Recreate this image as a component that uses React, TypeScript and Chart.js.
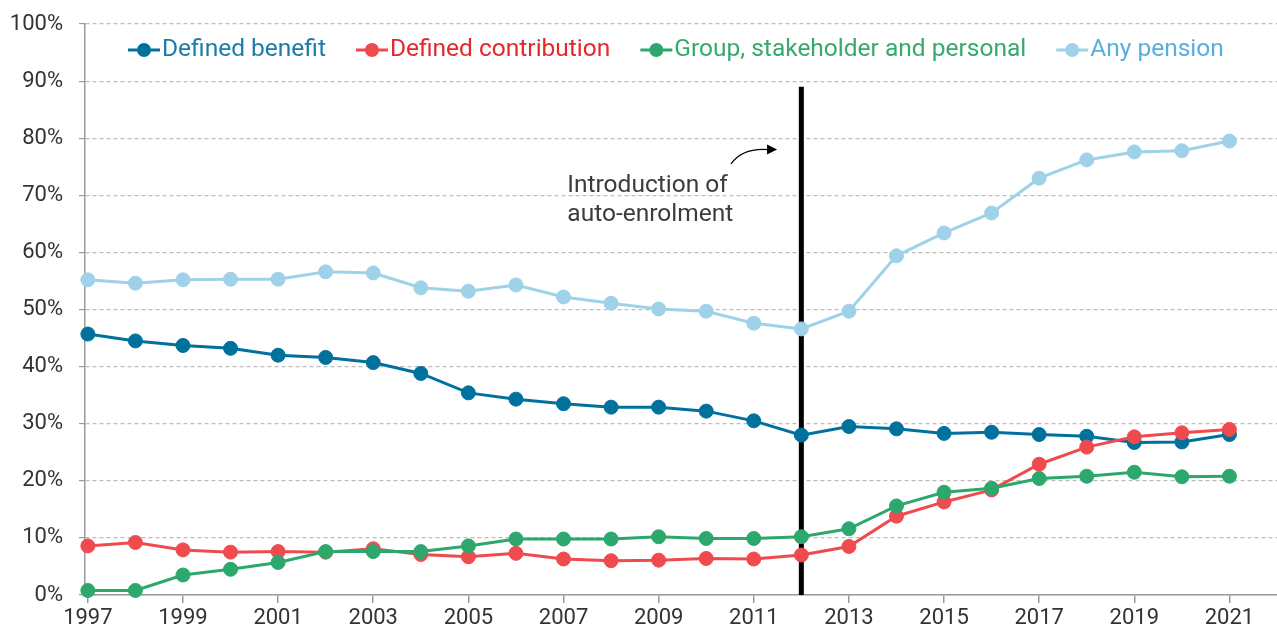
import React, { useEffect, useRef } from "react";
import { Chart, registerables } from "chart.js";

Chart.register(...registerables);

const years = [1997, 1998, 1999, 2000, 2001, 2002, 2003, 2004, 2005, 2006, 2007, 2008, 2009, 2010, 2011, 2012, 2013, 2014, 2015, 2016, 2017, 2018, 2019, 2020, 2021];
const definedBenefit = [45.7, 44.5, 43.7, 43.2, 42.0, 41.6, 40.7, 38.8, 35.4, 34.3, 33.5, 32.9, 32.9, 32.2, 30.5, 28.0, 29.5, 29.1, 28.3, 28.5, 28.1, 27.8, 26.7, 26.8, 28.1];
const definedContribution = [8.6, 9.2, 7.9, 7.5, 7.6, 7.5, 8.1, 7.1, 6.7, 7.3, 6.3, 6.0, 6.1, 6.4, 6.3, 7.0, 8.5, 13.8, 16.3, 18.4, 22.9, 25.9, 27.7, 28.4, 29.0];
const groupStakeholderPersonal = [0.8, 0.8, 3.5, 4.5, 5.7, 7.6, 7.6, 7.6, 8.6, 9.8, 9.8, 9.8, 10.2, 9.9, 9.9, 10.2, 11.6, 15.6, 18.0, 18.7, 20.4, 20.8, 21.5, 20.7, 20.8];
const anyPension = [55.2, 54.6, 55.2, 55.3, 55.3, 56.6, 56.4, 53.8, 53.2, 54.3, 52.2, 51.1, 50.1, 49.7, 47.6, 46.6, 49.7, 59.4, 63.4, 66.9, 73.0, 76.2, 77.6, 77.8, 79.5];
const xTickYears = [1997, 1999, 2001, 2003, 2005, 2007, 2009, 2011, 2013, 2015, 2017, 2019, 2021];

const autoEnrolmentYear = 2012;
const annotationLines = ["Introduction of", "auto-enrolment"];

const FONT = "Roboto, 'Liberation Sans', sans-serif";
const WIDTH = 1277;
const HEIGHT = 635;

const seriesStyle = [
  { label: "Defined benefit", color: "#00719D", text: "#1A7CA8", data: definedBenefit, order: 4 },
  { label: "Defined contribution", color: "#EF4B4F", text: "#E5272C", data: definedContribution, order: 3 },
  { label: "Group, stakeholder and personal", color: "#2DA86C", text: "#36A96E", data: groupStakeholderPersonal, order: 2 },
  { label: "Any pension", color: "#9FD2E9", text: "#58AEDF", data: anyPension, order: 1 },
];

// Legend drawn inside the plot area: line + dot marker followed by coloured text
const insideLegend = {
  id: "insideLegend",
  afterDraw(chart: any) {
    const ctx = chart.ctx;
    ctx.save();
    ctx.font = `24.5px ${FONT}`;
    ctx.textBaseline = "middle";
    ctx.textAlign = "left";
    let x = 128;
    const y = 50;
    for (const s of seriesStyle) {
      ctx.strokeStyle = s.color;
      ctx.lineWidth = 3;
      ctx.beginPath();
      ctx.moveTo(x, y);
      ctx.lineTo(x + 32, y);
      ctx.stroke();
      ctx.fillStyle = s.color;
      ctx.beginPath();
      ctx.arc(x + 16, y, 7, 0, Math.PI * 2);
      ctx.fill();
      ctx.fillStyle = s.text;
      ctx.fillText(s.label, x + 34, y);
      x += 34 + ctx.measureText(s.label).width + 30;
    }
    ctx.restore();
  },
};

// Vertical marker for auto-enrolment with its label and curved arrow
const autoEnrolmentMarker = {
  id: "autoEnrolmentMarker",
  beforeDatasetsDraw(chart: any) {
    const ctx = chart.ctx;
    const xs = chart.scales.x;
    const ys = chart.scales.y;
    const lx = xs.getPixelForValue(autoEnrolmentYear);
    ctx.save();
    ctx.strokeStyle = "#000";
    ctx.lineWidth = 5;
    ctx.beginPath();
    ctx.moveTo(lx, ys.getPixelForValue(89));
    ctx.lineTo(lx, ys.getPixelForValue(0));
    ctx.stroke();

    ctx.fillStyle = "#3c3c3c";
    ctx.font = `24.5px ${FONT}`;
    ctx.textAlign = "left";
    ctx.textBaseline = "middle";
    const tx = xs.getPixelForValue(2007.08);
    ctx.fillText(annotationLines[0], tx, ys.getPixelForValue(71.6));
    ctx.fillText(annotationLines[1], tx, ys.getPixelForValue(66.5));

    // curved arrow
    const ax0 = xs.getPixelForValue(2010.52);
    const ay0 = ys.getPixelForValue(75.5);
    const ax1 = xs.getPixelForValue(2011.3);
    const ay1 = ys.getPixelForValue(78.0);
    ctx.strokeStyle = "#000";
    ctx.lineWidth = 1.3;
    ctx.beginPath();
    ctx.moveTo(ax0, ay0);
    ctx.quadraticCurveTo(ax0 + 12, ay1 - 2, ax1, ay1);
    ctx.stroke();
    ctx.fillStyle = "#000";
    ctx.beginPath();
    ctx.moveTo(ax1 + 9, ay1);
    ctx.lineTo(ax1 - 1, ay1 - 5);
    ctx.lineTo(ax1 - 1, ay1 + 5);
    ctx.closePath();
    ctx.fill();
    ctx.restore();
  },
};

export default function App() {
  const canvasRef = useRef<HTMLCanvasElement | null>(null);

  useEffect(() => {
    if (!canvasRef.current) return;
    const chart = new Chart(canvasRef.current, {
      type: "line",
      data: {
        datasets: seriesStyle.map((s) => ({
          label: s.label,
          data: years.map((yr, i) => ({ x: yr, y: s.data[i] })),
          borderColor: s.color,
          backgroundColor: s.color,
          pointBackgroundColor: s.color,
          pointBorderColor: s.color,
          borderWidth: 3,
          pointRadius: 7,
          pointBorderWidth: 1,
          tension: 0,
          clip: false,
          order: s.order,
        })),
      },
      options: {
        animation: false,
        responsive: false,
        devicePixelRatio: 1,
        layout: { autoPadding: false, padding: { top: 24, left: 0, right: 0, bottom: 0 } },
        plugins: {
          legend: { display: false },
          tooltip: { enabled: false },
        },
        scales: {
          x: {
            type: "linear",
            min: 1996.94,
            max: 2022,
            afterBuildTicks(scale: any) {
              scale.ticks = xTickYears.map((v) => ({ value: v }));
            },
            afterFit(scale: any) {
              scale.height = 40;
              scale.paddingLeft = 0;
              scale.paddingRight = 0;
            },
            grid: {
              drawOnChartArea: false,
              drawTicks: true,
              tickLength: 8,
              color: "#9a9a9a",
              lineWidth: 1.5,
            },
            border: { color: "#9a9a9a", width: 1.5 },
            ticks: {
              callback: (v: any) => String(v),
              font: { family: FONT, size: 22 },
              color: "#333333",
              padding: 2,
              maxRotation: 0,
              autoSkip: false,
            },
          },
          y: {
            min: 0,
            max: 100,
            afterFit(scale: any) {
              scale.width = 85;
              scale.paddingTop = 0;
              scale.paddingBottom = 0;
            },
            grid: {
              color: "#bdbdbd",
              lineWidth: 1.2,
              tickLength: 6,
              drawTicks: true,
              tickColor: "#9a9a9a",
              tickBorderDash: [],
            },
            border: { color: "#9a9a9a", width: 1.5, dash: [4, 3] },
            ticks: {
              stepSize: 10,
              callback: (v: any) => `${v}%`,
              font: { family: FONT, size: 22 },
              color: "#333333",
              padding: 16,
            },
          },
        },
      },
      plugins: [autoEnrolmentMarker, insideLegend],
    });
    return () => chart.destroy();
  }, []);

  return (
    <div style={{ position: "absolute", left: 0, top: 0, width: WIDTH, height: HEIGHT }}>
      <canvas ref={canvasRef} width={WIDTH} height={HEIGHT} style={{ display: "block" }} />
    </div>
  );
}
